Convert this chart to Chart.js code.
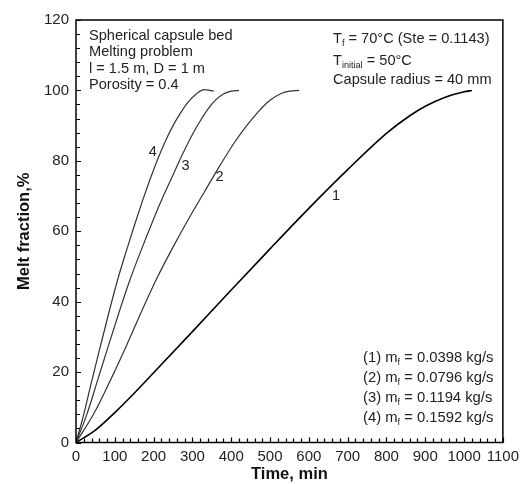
<!DOCTYPE html>
<html>
<head>
<meta charset="utf-8">
<script src="https://cdn.jsdelivr.net/npm/chart.js@4.4.1/dist/chart.umd.min.js"></script>
<style>
  html, body { margin: 0; padding: 0; background: #fff; }
  #wrap { width: 524px; height: 484px; position: relative; }
</style>
</head>
<body>
<div id="wrap"><canvas id="melt"></canvas></div>
<script>
const xTicks = [0, 100, 200, 300, 400, 500, 600, 700, 800, 900, 1000, 1100];
const yTicks = [0, 20, 40, 60, 80, 100, 120];

// curve 1 : m_f = 0.0398 kg/s
const time1 = [0, 50, 100, 150, 200, 300, 400, 500, 600, 700, 800, 860, 900, 950, 1000, 1020];
const melt1 = [0, 3.5, 8.5, 14, 19.8, 31.5, 43.3, 55, 66.5, 77.5, 87.8, 92.8, 95.5, 98, 99.6, 100];
// curve 2 : m_f = 0.0796 kg/s
const time2 = [0, 45, 90, 130, 170, 210, 250, 290, 330, 370, 410, 440, 470, 500, 530, 550, 575];
const melt2 = [0, 8, 18, 27.5, 37.5, 47, 55.5, 63.5, 71, 78.5, 85.5, 90, 94, 97.2, 99.2, 99.8, 100];
// curve 3 : m_f = 0.1194 kg/s
const time3 = [0, 28, 56, 85, 111, 140, 171, 200, 225, 250, 275, 300, 320, 340, 360, 380, 400, 420];
const melt3 = [0, 8, 17.8, 28, 37, 46.5, 55.5, 63.5, 70, 76, 82, 87.5, 91.3, 94.7, 97.3, 99, 99.8, 100];
// curve 4 : m_f = 0.1592 kg/s
const time4 = [0, 20, 40, 62, 85, 108, 130, 150, 170, 190, 210, 230, 250, 270, 290, 310, 330, 345, 355];
const melt4 = [0, 8, 17.2, 27, 37, 46.5, 54.5, 61.5, 68.2, 74.5, 80.3, 85.5, 90, 93.7, 96.8, 99, 100.2, 100, 99.8];

const curveLabels = ['1', '2', '3', '4'];
const curveLabelPos = [[670, 70], [370, 75.5], [282, 78.5], [198, 82.5]];
const flowRates = ['0.0398', '0.0796', '0.1194', '0.1592'];

const FONT = '"Liberation Sans", Arial, sans-serif';

function pairs(t, f) {
  return t.map((v, i) => ({ x: v, y: f[i] }));
}

function drawRich(ctx, parts, x, y, size) {
  let cx = x;
  parts.forEach((p) => {
    if (p.sub) {
      ctx.font = `${(size * 0.62).toFixed(1)}px ${FONT}`;
      ctx.fillText(p.t, cx, y + size * 0.28);
    } else {
      ctx.font = `${size}px ${FONT}`;
      ctx.fillText(p.t, cx, y);
    }
    cx += ctx.measureText(p.t).width;
  });
}

const framePlugin = {
  id: 'frame',
  afterDraw(chart) {
    const { ctx, chartArea: a, scales } = chart;
    const xs = scales.x;
    const ys = scales.y;
    ctx.save();
    ctx.strokeStyle = '#000';
    ctx.lineWidth = 1.5;
    ctx.strokeRect(a.left, a.top, a.right - a.left, a.bottom - a.top);

    // inward tick marks
    ctx.lineWidth = 1.2;
    ctx.beginPath();
    for (let v = 0; v <= 1100; v += 20) {
      const px = Math.round(xs.getPixelForValue(v)) + 0.5;
      const len = v % 100 === 0 ? 5 : 4;
      ctx.moveTo(px, a.bottom);
      ctx.lineTo(px, a.bottom - len);
    }
    for (let v = 0; v <= 120; v += 4) {
      const py = Math.round(ys.getPixelForValue(v)) + 0.5;
      const len = v % 20 === 0 ? 5 : 4;
      ctx.moveTo(a.left, py);
      ctx.lineTo(a.left + len, py);
    }
    ctx.stroke();

    ctx.fillStyle = '#222';
    ctx.textBaseline = 'middle';

    // curve numbers
    ctx.font = `14.5px ${FONT}`;
    ctx.textAlign = 'center';
    curveLabels.forEach((lab, i) => {
      const [t, f] = curveLabelPos[i];
      ctx.fillText(lab, xs.getPixelForValue(t), ys.getPixelForValue(f));
    });
    ctx.textAlign = 'left';

    // top-left notes
    const left = ['Spherical capsule bed', 'Melting problem', 'l = 1.5 m, D = 1 m', 'Porosity = 0.4'];
    ctx.font = `14.6px ${FONT}`;
    left.forEach((s, i) => ctx.fillText(s, 89, 36 + i * 16.4));

    // top-right notes
    drawRich(ctx, [{ t: 'T' }, { t: 'f', sub: true }, { t: ' = 70°C (Ste = 0.1143)' }], 333, 39, 14.6);
    drawRich(ctx, [{ t: 'T' }, { t: 'initial', sub: true }, { t: ' = 50°C' }], 333, 61, 14.6);
    drawRich(ctx, [{ t: 'Capsule radius = 40 mm' }], 333, 80, 14.6);

    // bottom-right flow rates
    flowRates.forEach((r, i) => {
      drawRich(ctx, [{ t: `(${i + 1}) m` }, { t: 'f', sub: true }, { t: ` = ${r} kg/s` }], 363, 358 + i * 20, 14.8);
    });
    ctx.restore();
  },
};

new Chart(document.getElementById('melt'), {
  type: 'scatter',
  data: {
    datasets: [
      { data: pairs(time1, melt1), borderColor: '#000', borderWidth: 1.6 },
      { data: pairs(time2, melt2), borderColor: '#333', borderWidth: 1.2 },
      { data: pairs(time3, melt3), borderColor: '#333', borderWidth: 1.2 },
      { data: pairs(time4, melt4), borderColor: '#333', borderWidth: 1.2 },
    ].map((d) => ({
      ...d,
      showLine: true,
      pointRadius: 0,
      cubicInterpolationMode: 'monotone',
      fill: false,
    })),
  },
  options: {
    responsive: true,
    maintainAspectRatio: false,
    animation: false,
    layout: { padding: { top: 20, right: 19, left: 0, bottom: 0 } },
    plugins: { legend: { display: false }, tooltip: { enabled: false } },
    scales: {
      x: {
        type: 'linear',
        min: 0,
        max: 1100,
        afterBuildTicks: (s) => { s.ticks = xTicks.map((v) => ({ value: v })); },
        afterFit: (s) => { s.height = 41.5; },
        ticks: { color: '#222', padding: 5, maxRotation: 0, autoSkip: false, callback: (v) => `${v}`, font: { family: FONT, size: 15 } },
        grid: { display: false, drawTicks: false },
        border: { display: false },
        title: { display: true, text: 'Time, min', color: '#111', padding: 0, font: { family: FONT, size: 16.5, weight: 'bold' } },
      },
      y: {
        type: 'linear',
        min: 0,
        max: 120,
        afterBuildTicks: (s) => { s.ticks = yTicks.map((v) => ({ value: v })); },
        afterFit: (s) => { s.width = 76; },
        ticks: { color: '#222', padding: 7, autoSkip: false, callback: (v) => `${v}`, font: { family: FONT, size: 15 } },
        grid: { display: false, drawTicks: false },
        border: { display: false },
        title: { display: true, text: 'Melt fraction,%', color: '#111', padding: { top: 15, bottom: 0 }, font: { family: FONT, size: 16.5, weight: 'bold' } },
      },
    },
  },
  plugins: [framePlugin],
});
</script>
</body>
</html>
